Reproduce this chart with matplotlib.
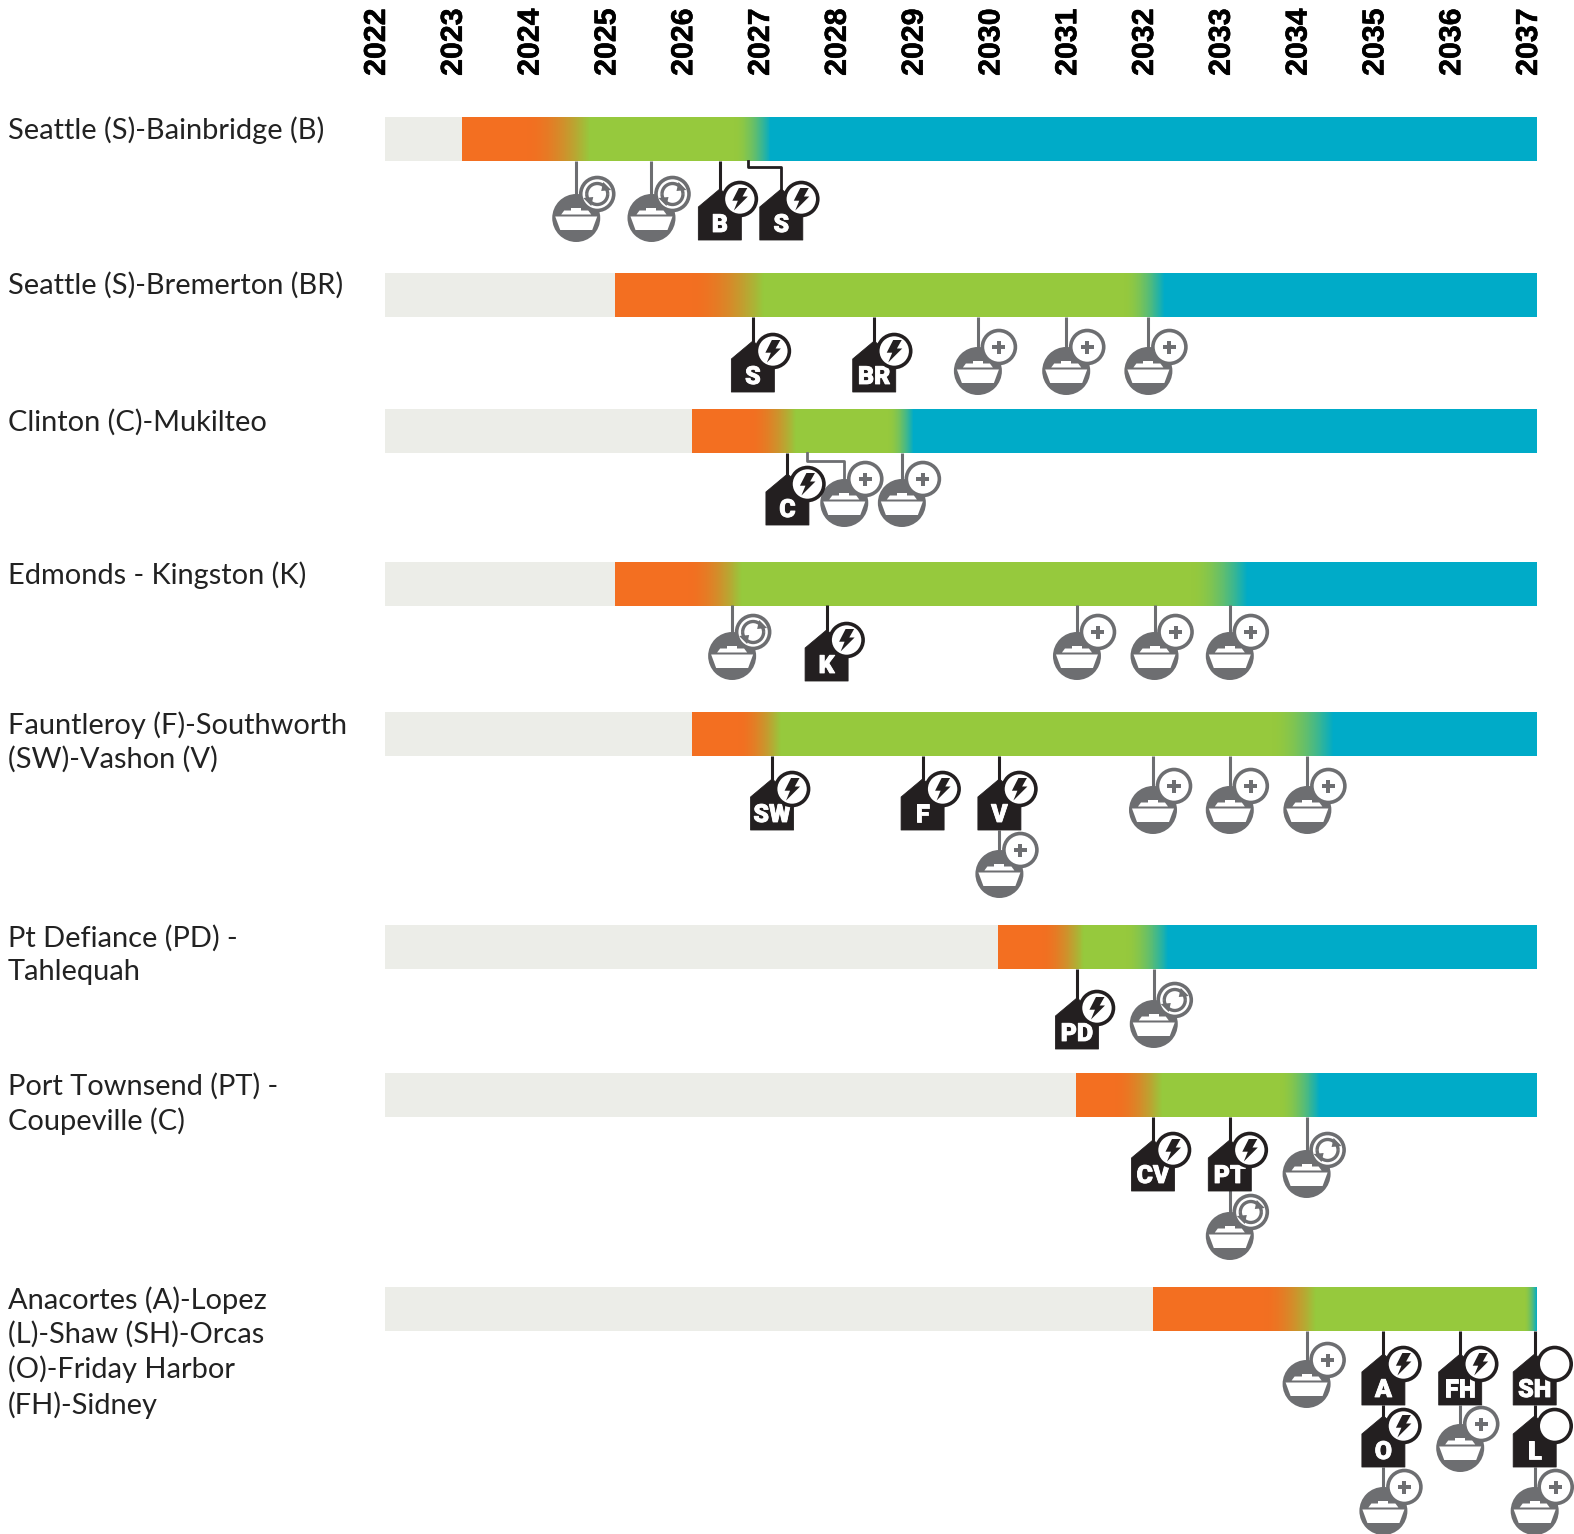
import numpy as np
import matplotlib
matplotlib.use("Agg")
import matplotlib.pyplot as plt
import matplotlib.patheffects as pe
from matplotlib.transforms import ScaledTranslation
from matplotlib.patches import Ellipse, Polygon, Arc

W, H = 1574, 1534
YEARS = list(range(2022, 2038))
ROUTES = ["Seattle (S)-Bainbridge (B)", "Seattle (S)-Bremerton (BR)", "Clinton (C)-Mukilteo",
          "Edmonds - Kingston (K)", "Fauntleroy (F)-Southworth\n(SW)-Vashon (V)",
          "Pt Defiance (PD) -\nTahlequah", "Port Townsend (PT) -\nCoupeville (C)",
          "Anacortes (A)-Lopez\n(L)-Shaw (SH)-Orcas\n(O)-Friday Harbor\n(FH)-Sidney"]
# phase boundaries in years
PHASE_START = [2023.0, 2025.0, 2026.0, 2025.0, 2026.0, 2029.98, 2031.0, 2032.0]
G1_START = [2023.85, 2026.0, 2026.75, 2025.95, 2026.60, 2030.55, 2031.50, 2033.45]
G1_END = [2024.66, 2026.93, 2027.35, 2026.64, 2027.15, 2031.10, 2032.12, 2034.12]
G2_START = [2026.55, 2031.62, 2028.55, 2032.50, 2033.55, 2031.65, 2033.65, 2036.84]
G2_END = [2027.02, 2032.15, 2028.88, 2033.23, 2034.35, 2032.20, 2034.17, 2037.0]

# vessels: route, year, badge
FERRY_ROUTE = [0, 0, 1, 1, 1, 2, 2, 3, 3, 3, 3, 4, 4, 4, 4, 5, 6, 6, 7, 7, 7, 7]
FERRY_YEAR = [2024.49, 2025.47, 2029.72, 2030.87, 2031.94, 2027.98, 2028.73, 2026.52, 2031.01, 2032.02, 2033.0,
              2032.0, 2033.0, 2034.01, 2030.0, 2032.01, 2034.0, 2033.0, 2034.0, 2035.0, 2036.0, 2036.97]
FERRY_BADGE = ["swap", "swap", "plus", "plus", "plus", "plus", "plus", "swap", "plus", "plus", "plus",
               "plus", "plus", "plus", "plus", "swap", "swap", "swap", "plus", "plus", "plus", "plus"]
# terminals: route, year, label, electrified badge
TERM_ROUTE = [0, 0, 1, 1, 2, 3, 4, 4, 4, 5, 6, 6, 7, 7, 7, 7, 7]
TERM_YEAR = [2026.36, 2027.16, 2026.79, 2028.37, 2027.24, 2027.75, 2027.04, 2029.0, 2030.0, 2031.01, 2032.0, 2033.0,
             2035.0, 2035.0, 2036.0, 2036.97, 2036.97]
TERM_LABEL = ["B", "S", "S", "BR", "C", "K", "SW", "F", "V", "PD", "CV", "PT", "A", "O", "FH", "SH", "L"]
TERM_BOLT = [True] * 15 + [False, False]

# ---- layout (pixels) ----
BAR_TOP = [117, 273, 409, 562, 712, 925, 1073, 1287]
BAR_H = 44
LABEL_Y = [116, 272, 409, 561, 711, 925, 1073, 1286]
FERRY_Y = [218, 218, 371, 371, 371, 503, 503, 656, 656, 656, 656, 810, 810, 810, 874, 1024, 1174, 1236, 1384, 1511, 1448, 1511]
FERRY_STEM = [161, 161, 317, 317, 317, None, 453, 605, 605, 605, 605, 756, 756, 756, 830, 969, 1117, 1190, 1331, 1467, 1405, 1467]
TERM_BOTTOM = [240, 240, 392, 392, 525, 681, 830, 830, 830, 1049, 1191, 1191, 1405, 1467, 1405, 1405, 1467]
TERM_STEM = [161, None, 317, 317, 453, 605, 756, 756, 756, 969, 1117, 1117, 1331, 1405, 1331, 1331, 1405]

DARK = "#231f20"; GREY = "#6d6e71"
C_GREY = np.array(matplotlib.colors.to_rgb("#ecede8"))
C_OR = np.array(matplotlib.colors.to_rgb("#f36f21"))
C_GR = np.array(matplotlib.colors.to_rgb("#96c93d"))
C_BL = np.array(matplotlib.colors.to_rgb("#00abc8"))

fig = plt.figure(figsize=(W / 100, H / 100), dpi=100)
X0, X1 = 385.0, 1537.0
Y0 = 80
ax = fig.add_axes([X0 / W, 0, (X1 - X0) / W, 1 - Y0 / H])
PPY = (X1 - X0) / 15.0
ax.set_xlim(2022, 2037)
ax.set_ylim(H, Y0)
ax.patch.set_alpha(0)
for s in ax.spines.values():
    s.set_visible(False)
ax.set_yticks([])
ax.xaxis.tick_top()
ax.set_xticks(YEARS)
ax.set_xticklabels([str(y) for y in YEARS], rotation=90, ha="right", va="bottom",
                   family="Liberation Sans", fontweight="bold", fontsize=21.8, color="#000000")
ax.tick_params(axis="x", length=0, pad=3)
shift = ScaledTranslation(6 / 100, 0, fig.dpi_scale_trans)
for lab in ax.get_xticklabels():
    lab.set_transform(lab.get_transform() + shift)
    lab.set_path_effects([pe.withStroke(linewidth=0.4, foreground="#000000")])

def px(d):
    return d / PPY

# bars
xs = np.linspace(2022, 2037, 2400)
for i in range(len(ROUTES)):
    rgb = np.zeros((1, xs.size, 3))
    for j, x in enumerate(xs):
        if x < PHASE_START[i]:
            c = C_GREY
        elif x < G1_START[i]:
            c = C_OR
        elif x < G1_END[i]:
            t = ((x - G1_START[i]) / (G1_END[i] - G1_START[i])) ** 1.8
            c = C_OR * (1 - t) + C_GR * t
        elif x < G2_START[i]:
            c = C_GR
        elif x < G2_END[i]:
            t = ((x - G2_START[i]) / (G2_END[i] - G2_START[i])) ** 1.8
            c = C_GR * (1 - t) + C_BL * t
        else:
            c = C_BL
        rgb[0, j] = c
    ax.imshow(rgb, extent=(2022, 2037, BAR_TOP[i] + BAR_H, BAR_TOP[i]), aspect="auto",
              interpolation="nearest", zorder=1)
    ax.text(2022 - px(X0 - 8), LABEL_Y[i], ROUTES[i], family="Lato", fontsize=20.9, color="#222222",
            va="top", ha="left", linespacing=1.345, clip_on=False)
ax.set_xlim(2022, 2037)
ax.set_ylim(H, Y0)

def circle(x, y, r, **kw):
    p = Ellipse((x, y), 2 * px(r), 2 * r, clip_on=False, **kw)
    ax.add_patch(p)
    return p

def poly(x, y, pts, **kw):
    p = Polygon([(x + px(a), y + b) for a, b in pts], closed=True, clip_on=False, **kw)
    ax.add_patch(p)
    return p

def badge(x, y, kind, col):
    circle(x, y, 16.5, fc="white", ec=col, lw=2.6, zorder=6)
    if kind == "bolt":
        poly(x, y, [(-1, -11), (7.5, -11), (2.7, -2.5), (8, -2.5), (-6, 11.5), (-2, 1.7), (-7.5, 1.7)],
             fc=DARK, ec="none", zorder=7)
    elif kind == "plus":
        poly(x, y, [(-2, -6.5), (2, -6.5), (2, -2), (6.5, -2), (6.5, 2), (2, 2), (2, 6.5),
                    (-2, 6.5), (-2, 2), (-6.5, 2), (-6.5, -2), (-2, -2)], fc=GREY, ec="none", zorder=7)
    elif kind == "swap":
        for a0, a1 in ((200, 340), (20, 160)):
            ax.add_patch(Arc((x, y), 2 * px(10.5), 21, theta1=-a1, theta2=-a0, ec=GREY, lw=2.4, zorder=7,
                             clip_on=False))
        poly(x, y, [(6, -12), (14, -4), (4, -3)], fc=GREY, ec="none", zorder=7)
        poly(x, y, [(-6, 12), (-14, 4), (-4, 3)], fc=GREY, ec="none", zorder=7)

def ferry(x, y, kind, stem_top):
    if stem_top is not None:
        ax.plot([x, x], [stem_top, y - 20], color=GREY, lw=2.2, zorder=2, solid_capstyle="butt", clip_on=False)
    circle(x, y, 24, fc=GREY, ec="none", zorder=3)
    poly(x, y, [(-5, -10.5), (5, -10.5), (5, -7.5), (-5, -7.5)], fc="white", ec="none", zorder=4)
    poly(x, y, [(-12, -7.5), (12, -7.5), (15, -3.5), (-15, -3.5)], fc="white", ec="none", zorder=4)
    poly(x, y, [(-21, -1.5), (21, -1.5), (16, 12), (-16, 12)], fc="white", ec="none", zorder=4)
    badge(x + px(21), y - 24, kind, GREY)

def terminal(x, bottom, text, bolt, stem_top):
    if stem_top is not None:
        ax.plot([x, x], [stem_top, bottom - 50], color=DARK, lw=2.2, zorder=2, solid_capstyle="butt", clip_on=False)
    poly(x, bottom, [(-21.5, -33), (0, -51), (21.5, -33), (21.5, 0), (-21.5, 0)], fc=DARK, ec=DARK, lw=0.6,
         joinstyle="round", zorder=3)
    t = ax.text(x, bottom - 15, text, family="Roboto", fontweight="black", fontsize=18, color="white",
                ha="center", va="center", zorder=5, clip_on=False)
    t.set_path_effects([pe.withStroke(linewidth=0.6, foreground="white")])
    if bolt:
        badge(x + px(20), bottom - 41, "bolt", DARK)
    else:
        circle(x + px(20), bottom - 41, 16.5, fc="white", ec=DARK, lw=2.6, zorder=6)

for r, yr, b, y, st in zip(FERRY_ROUTE, FERRY_YEAR, FERRY_BADGE, FERRY_Y, FERRY_STEM):
    ferry(yr, y, b, st)
for r, yr, t, b, bo, st in zip(TERM_ROUTE, TERM_YEAR, TERM_LABEL, TERM_BOLT, TERM_BOTTOM, TERM_STEM):
    terminal(yr, bo, t, b, st)

# elbow connectors
ax.plot([2026.73, 2026.73, 2027.16, 2027.16], [161, 167, 167, 190], color=DARK, lw=2, zorder=2, clip_on=False)
ax.plot([2027.50, 2027.50, 2027.98, 2027.98], [453, 461, 461, 485], color=GREY, lw=2, zorder=2, clip_on=False)

fig.savefig("out.png", dpi=100, facecolor="white")
